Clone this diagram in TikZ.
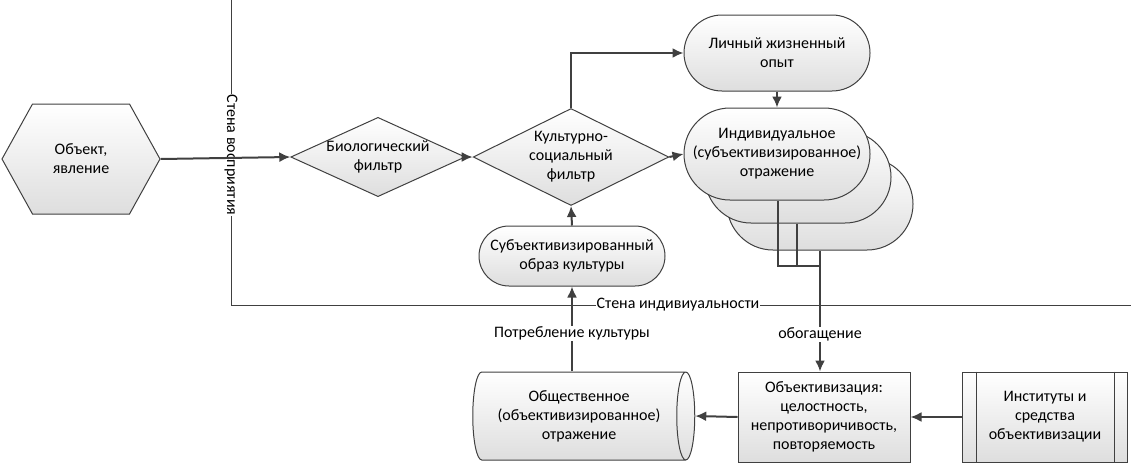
\documentclass[tikz,border=0pt]{standalone}
\usepackage{fontspec}
\setmainfont{Carlito}
\usetikzlibrary{positioning}
\usetikzlibrary{shapes.geometric,shapes.symbols}
\usetikzlibrary{arrows.meta}
\definecolor{ln}{HTML}{404040}
\tikzset{
    base/.style={draw=ln, line width=1pt, top color=white, bottom color=black!13,
        align=center, inner sep=0pt, font=\fontsize{16}{19}\selectfont},
    stad/.style={base, rectangle, rounded corners=#1, minimum width=186pt, minimum height=2*#1},
    filt/.style={base, diamond, minimum width=164pt, minimum height=#1, aspect=2.2},
    box/.style={base, rectangle, minimum height=90pt},
    link/.style={draw=ln, line width=2pt, -{Latex[length=11pt,width=10pt]}},
    wire/.style={draw=ln, line width=2pt},
    wall/.style={draw=ln, line width=0.8pt},
    lbl/.style={font=\fontsize{16}{19}\selectfont, fill=white, inner sep=1pt}
}
\begin{document}
\begin{tikzpicture}[x=1pt,y=-1pt]
    \useasboundingbox (0,0) rectangle (1131,466);

    % walls
    \coordinate (WTOP) at (231,0);
    \coordinate (WCORNER) at (231,305);
    \coordinate (WEND) at (1131,305);
    \draw[wall] (WTOP) -- (WCORNER) -- (WEND);

    \node[base, signal, signal to=west and east, signal pointer angle=122,
        minimum width=158pt, minimum height=110pt] (OBJ) at (81,159) {Объект,\\явление};
    \node[filt=75pt] (BIO) at (378,157) {Биологический\\фильтр};
    \node[filt=97pt] (CULT) at (571,157) {Культурно-\\социальный\\фильтр};
    \node[stad=38pt] (LIFE) at (777,53) {Личный жизненный\\опыт};

    \node[stad=46pt] (IND3) at (820,204) {};
    \node[stad=46pt] (IND2) at (798,177) {};
    \node[stad=46pt] (IND) at (777,154) {Индивидуальное\\(субъективизированное)\\отражение};

    \node[stad=30pt] (SUBJ) at (572,256) {Субъективизированный\\образ культуры};

    \node[base, cylinder, aspect=0.35, minimum width=88pt, minimum height=222pt]
        (SOC) at (579,416) {Общественное\\(объективизированное)\\отражение};
    \node[box, minimum width=172pt] (OBJV) at (824,417)
        {Объективизация:\\целостность,\\непротиворичивость,\\повторяемость};
    \node[box, minimum width=165pt] (INST) at (1045,417) {Институты и\\средства\\объективизации};
    \draw[ln, line width=1pt] ([xshift=14pt]INST.north west) -- ([xshift=14pt]INST.south west);
    \draw[ln, line width=1pt] ([xshift=-14pt]INST.north east) -- ([xshift=-14pt]INST.south east);

    % wall labels
    \node[lbl, rotate=-90] (WL1) at (231,155) {Стена восприятия};
    \node[lbl] (WL2) at (678,305) {Стена индивиуальности};

    % flow
    \draw[link] (OBJ.east) -- (BIO.west);
    \draw[link] (BIO.east) -- (CULT.west);
    \draw[link] (CULT.east) -- (IND.west);
    \draw[link] (CULT.north) |- (LIFE.west);
    \draw[link] (LIFE.south) -- (IND.north);
    \draw[link] (SUBJ.north) -- (CULT.south);
    \draw[link] (SOC.north -| SUBJ) -- node[lbl, pos=0.45] {Потребление культуры} (SUBJ.south);

    \coordinate (J1) at (778,266);
    \coordinate (J3) at (820,266);
    \draw[wire] (IND.south -| J1) -- (J1) -- (J3);
    \draw[wire] (IND2.south -| 797,0) -- (797,266);
    \draw[link] (IND3.south -| J3) -- (J3) -- node[lbl, pos=0.65] {обогащение} (OBJV.north -| J3);

    \draw[link] (OBJV.west) -- (SOC.east);
    \draw[link] (INST.west) -- (OBJV.east);
\end{tikzpicture}
\end{document}
